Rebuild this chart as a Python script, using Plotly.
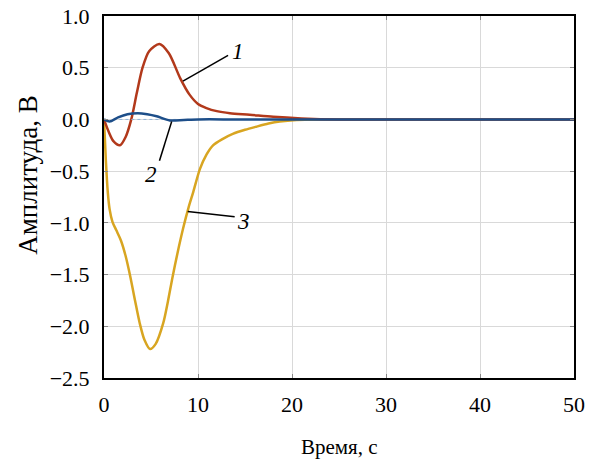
import plotly.graph_objects as go

# Curve 1 (red)
t1 = [0, 0.5, 1.0, 1.7, 2.3, 2.9, 3.5, 4.1, 4.8, 5.9, 6.9, 8.1, 9.1, 10.0, 10.9, 12.0, 13.4, 15.5, 18.0, 21, 25, 30, 50]
v1 = [0, -0.12, -0.21, -0.25, -0.17, 0.0, 0.26, 0.50, 0.66, 0.73, 0.64, 0.40, 0.24, 0.15, 0.11, 0.08, 0.06, 0.045, 0.025, 0.01, 0.0, 0.0, 0.0]

# Curve 2 (blue)
t2 = [0, 0.6, 1.5, 2.5, 3.6, 4.6, 5.6, 7.0, 8.5, 10, 14, 20, 50]
v2 = [0, -0.02, 0.02, 0.05, 0.06, 0.05, 0.03, -0.01, -0.005, 0.0, 0.0, 0.0, 0.0]

# Curve 3 (yellow)
t3 = [0, 0.2, 0.4, 0.6, 0.9, 1.3, 1.8, 2.3, 2.8, 3.3, 3.8, 4.3, 4.9, 5.5, 6.3, 6.8, 7.3, 7.8, 8.4, 9.0, 9.5, 10.2, 10.9, 11.6, 12.6, 13.7, 15.0, 16.2, 17.5, 18.7, 20.5, 23, 50]
v3 = [0, -0.4, -0.7, -0.87, -0.99, -1.07, -1.17, -1.32, -1.52, -1.75, -1.97, -2.13, -2.22, -2.17, -1.97, -1.76, -1.52, -1.30, -1.06, -0.85, -0.70, -0.48, -0.34, -0.25, -0.19, -0.14, -0.10, -0.07, -0.04, -0.02, -0.005, 0.0, 0.0]

# Dotted reference segment near zero
td = [1.0, 8.0]
vd = [0.0, 0.0]

x_ticks = [0, 10, 20, 30, 40, 50]
y_ticks = [-2.5, -2.0, -1.5, -1.0, -0.5, 0.0, 0.5, 1.0]

fig = go.Figure()
fig.add_trace(go.Scatter(x=t3, y=v3, mode="lines", line=dict(color="#D8A521", width=2.5, shape="spline", smoothing=0.8)))
fig.add_trace(go.Scatter(x=t1, y=v1, mode="lines", line=dict(color="#B2391B", width=2.5, shape="spline", smoothing=0.8)))
fig.add_trace(go.Scatter(x=td, y=vd, mode="lines", line=dict(color="#8FB3D9", width=1, dash="dot")))
fig.add_trace(go.Scatter(x=t2, y=v2, mode="lines", line=dict(color="#1D4E89", width=2.5, shape="spline", smoothing=0.8)))

font = dict(family="Liberation Serif", size=22, color="black")
xtitle_font = dict(family="Liberation Serif", size=21, color="black")
ytitle_font = dict(family="Liberation Serif", size=27, color="black")

# Leader lines and labels
leaders = [
    ((8.4, 0.37), (13.2, 0.62), "1", (14.3, 0.66)),
    ((7.2, -0.02), (5.9, -0.40), "2", (5.0, -0.53)),
    ((8.9, -0.89), (13.9, -0.94), "3", (14.8, -0.99)),
]
for (x0, y0), (x1, y1), lab, (lx, ly) in leaders:
    fig.add_shape(type="line", x0=x0, y0=y0, x1=x1, y1=y1, line=dict(color="black", width=1.5))
    fig.add_annotation(x=lx, y=ly, text="<i>" + lab + "</i>", showarrow=False,
                       font=dict(family="Liberation Serif", size=23, color="black"))

# Axis titles as annotations (positioned as in the reference)
fig.add_annotation(xref="paper", yref="paper", x=-0.162, y=0.561, text="Амплитуда, В",
                   textangle=-90, showarrow=False, font=ytitle_font,
                   xanchor="center", yanchor="middle")
fig.add_annotation(xref="paper", yref="paper", x=0.5, y=-0.19, text="Время, с",
                   showarrow=False, font=xtitle_font, xanchor="center", yanchor="middle")

axis_common = dict(
    showgrid=True, gridcolor="#D9D9D9", gridwidth=1,
    showline=True, linecolor="black", linewidth=2, mirror="ticks",
    ticks="inside", ticklen=4, tickcolor="#888888",
    zeroline=False, tickfont=font, automargin=False,
)
fig.update_xaxes(range=[0, 50], tickvals=x_ticks, ticklabelstandoff=6, **axis_common)
fig.update_yaxes(range=[-2.5, 1.0], tickvals=y_ticks, tickformat=".1f", ticklabelstandoff=8,
                 **axis_common)

fig.update_layout(
    width=592, height=464,
    margin=dict(l=104, r=18, t=16, b=86),
    plot_bgcolor="white", paper_bgcolor="white",
    showlegend=False,
    font=font,
)
fig.write_html("out.html")
